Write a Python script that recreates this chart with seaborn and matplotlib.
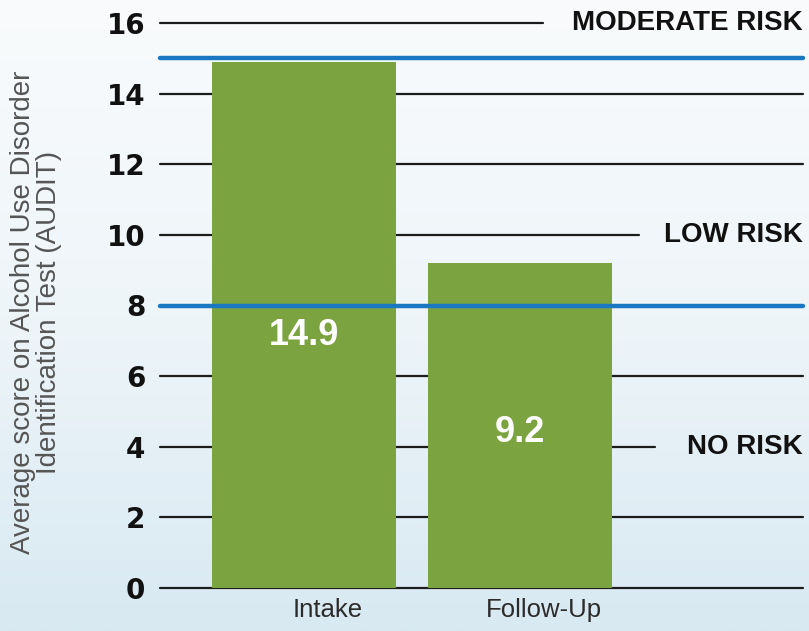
import numpy as np
import pandas as pd
import matplotlib
matplotlib.use("Agg")
import matplotlib.pyplot as plt
from matplotlib.colors import LinearSegmentedColormap
from matplotlib.transforms import ScaledTranslation, blended_transform_factory
import seaborn as sns

# --- data -------------------------------------------------------------
categories = ["Intake", "Follow-Up"]
scores = [14.9, 9.2]
value_labels = ["14.9", "9.2"]

y_ticks = [0, 2, 4, 6, 8, 10, 12, 14, 16]
risk_thresholds = [8, 15]
risk_names = ["MODERATE RISK", "LOW RISK", "NO RISK"]
risk_label_levels = [16, 10, 4]

y_label = "Average score on Alcohol Use Disorder\nIdentification Test (AUDIT)"

# --- style ------------------------------------------------------------
GREEN = "#7ba33f"
BLUE = "#1a78c2"
GRID = "#1c1c1c"

sns.set_theme(style="white")
plt.rcParams["font.family"] = ["Liberation Sans", "DejaVu Sans"]

fig = plt.figure(figsize=(8.09, 6.31), dpi=100)

# soft vertical gradient behind everything
bg = fig.add_axes([0, 0, 1, 1], zorder=0)
grad = np.linspace(0, 1, 256).reshape(-1, 1)
cmap = LinearSegmentedColormap.from_list("bg", ["#f9fbfc", "#eef5f9", "#d8e9f2"])
bg.imshow(grad, aspect="auto", cmap=cmap, extent=[0, 1, 0, 1], origin="upper")
bg.set_axis_off()

ax = fig.add_axes([160 / 809, 43 / 631, 645 / 809, 565 / 631], zorder=1)
ax.patch.set_alpha(0)

df = pd.DataFrame({"stage": categories, "score": scores})
sns.barplot(data=df, x="stage", y="score", color=GREEN, saturation=1,
            width=0.852, ax=ax, zorder=2, edgecolor="none")

ax.set_xlim(-0.667, 2.319)
ax.set_ylim(0, 16)

# horizontal rules; the ones carrying a risk label stop short of it
grid_ends = {16: 0.594, 10: 0.743, 4: 0.767}
for t in y_ticks:
    ax.axhline(t, xmin=0, xmax=grid_ends.get(t, 0.997), color=GRID,
               lw=1.6, zorder=1, clip_on=False)

for t in risk_thresholds:
    ax.axhline(t, xmin=0, xmax=0.997, color=BLUE, lw=3.2, zorder=3,
               clip_on=False)

# risk zone labels at the right edge
trans = blended_transform_factory(ax.transAxes, ax.transData)
for name, lvl in zip(risk_names, risk_label_levels):
    ax.text(0.997, lvl, name, transform=trans, ha="right", va="center",
            fontsize=20, fontweight="bold", color="#111111",
            family=["Liberation Sans", "DejaVu Sans"])

# values inside the bars
for i, (v, lab) in enumerate(zip(scores, value_labels)):
    ax.text(i, v * 0.48, lab, ha="center", va="center", color="white",
            fontsize=26, fontweight="bold", zorder=4,
            family=["Liberation Sans", "DejaVu Sans"])

# axes cosmetics
for s in ax.spines.values():
    s.set_visible(False)
ax.set_xlabel("")
ax.set_ylabel("")
ax.set_yticks(y_ticks)
ax.set_yticklabels([str(t) for t in y_ticks], fontsize=20, fontweight="bold",
                   color="#111111", family=["DejaVu Sans"])
ax.tick_params(axis="y", length=0, pad=10.5)
ax.tick_params(axis="x", length=0, pad=7)
ax.set_xticks(range(len(categories)))
ax.set_xticklabels(categories, fontsize=18.5, color="#2b2b2b")
shift = ScaledTranslation(24 / 100, 0, fig.dpi_scale_trans)
for lab in ax.get_xticklabels():
    lab.set_transform(lab.get_transform() + shift)

fig.text(36 / 809, 1 - 312 / 631, y_label, rotation=90, ha="center",
         va="center", fontsize=20, color="#555555", linespacing=1.0,
         zorder=2)

fig.savefig("out.png", dpi=100)
